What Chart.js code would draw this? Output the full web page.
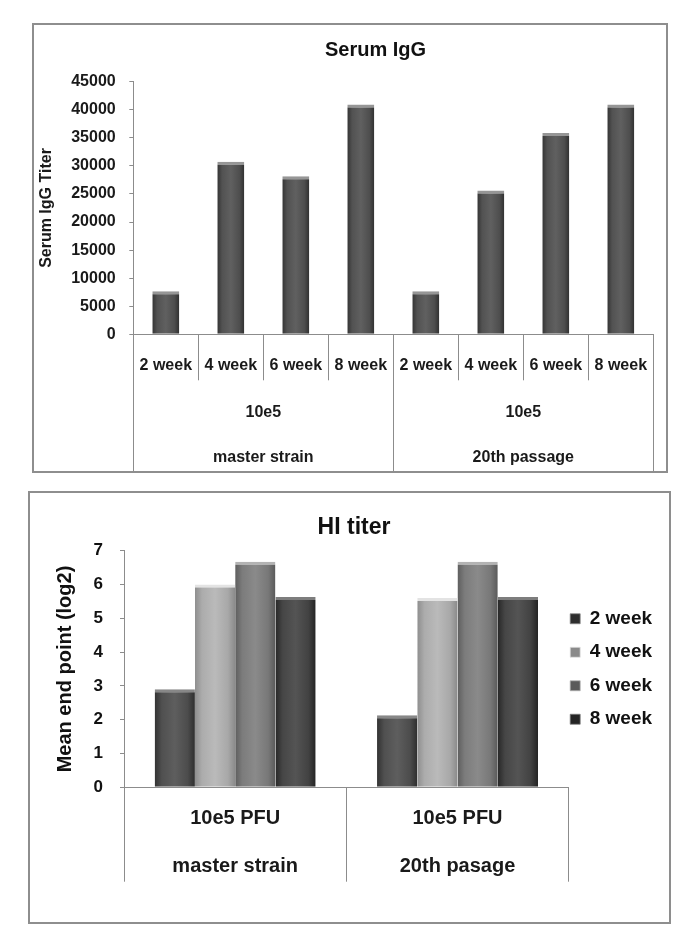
<!DOCTYPE html>
<html>
<head>
<meta charset="utf-8">
<script src="https://cdn.jsdelivr.net/npm/chart.js@4"></script>
<style>
  html, body { margin: 0; padding: 0; background: #fff; overflow: hidden; }
  .box { position: absolute; box-sizing: border-box; border: 2px solid #8e8e8e; background: #fff; }
  #igg-box { left: 32px; top: 23px; width: 636px; height: 450px; }
  #hi-box { left: 28px; top: 491px; width: 643px; height: 433px; }
  canvas { display: block; }
</style>
</head>
<body>
<div class="box" id="igg-box"><canvas id="igg" width="632" height="446"></canvas></div>
<div class="box" id="hi-box"><canvas id="hi" width="639" height="429"></canvas></div>
<script>
const weeks = ['2 week', '4 week', '6 week', '8 week'];

// Serum IgG (top chart)
const iggWeekLabels = [...weeks, ...weeks];
const iggDoseLabels = ['10e5', '10e5'];
const iggStrainLabels = ['master strain', '20th passage'];
const iggTiter = [7680, 30720, 28160, 40960, 7680, 25600, 35840, 40960];
const iggMax = 45000;
const iggStep = 5000;

// HI titer (bottom chart)
const hiDoseLabels = ['10e5 PFU', '10e5 PFU'];
const hiStrainLabels = ['master strain', '20th pasage'];
const hiWeek2 = [2.9, 2.13];
const hiWeek4 = [6.0, 5.6];
const hiWeek6 = [6.67, 6.67];
const hiWeek8 = [5.63, 5.63];
const hiSeries = [hiWeek2, hiWeek4, hiWeek6, hiWeek8];
const hiGreys = [80, 172, 124, 70];

Chart.defaults.font.family = "'Liberation Sans', Arial, sans-serif";
Chart.defaults.font.weight = 'bold';
Chart.defaults.color = '#1a1a1a';
Chart.defaults.animation = false;

const axisGrey = '#8c8c8c';
const grey = v => { v = Math.max(0, Math.min(255, Math.round(v))); return `rgb(${v},${v},${v})`; };

const IGG_BAR = 0.415;
const HI_CAT = 0.724;

// horizontal shading, darker at both edges like the 3D bars of the original
function shade(level, span) {
  return ctx => {
    const chart = ctx.chart;
    if (ctx.type !== 'data' || !chart.chartArea || !chart.scales.x) return grey(level);
    const [left, width] = span(chart, ctx);
    if (!isFinite(left) || !(width > 0)) return grey(level);
    const g = chart.ctx.createLinearGradient(left, 0, left + width, 0);
    g.addColorStop(0, grey(level - 30));
    g.addColorStop(0.18, grey(level));
    g.addColorStop(0.5, grey(level + 14));
    g.addColorStop(0.82, grey(level - 4));
    g.addColorStop(1, grey(level - 34));
    return g;
  };
}

const iggSpan = (chart, ctx) => {
  const xs = chart.scales.x;
  const w = xs.width / iggWeekLabels.length * IGG_BAR;
  return [xs.getPixelForValue(ctx.dataIndex) - w / 2, w];
};

const hiSpan = (chart, ctx) => {
  const xs = chart.scales.x;
  const group = xs.width / hiDoseLabels.length * HI_CAT;
  const w = group / hiSeries.length;
  return [xs.getPixelForValue(ctx.dataIndex) - group / 2 + ctx.datasetIndex * w, w];
};

const topBevel = { top: 3, left: 0, right: 0, bottom: 0 };

// a row of category labels under the plot; pad puts the text in the middle of the row
function labelRow(labels, weight, pad, size) {
  return {
    type: 'category', position: 'bottom', weight,
    labels,
    offset: true,
    grid: { display: false, drawTicks: false },
    border: { display: false },
    ticks: { padding: pad, font: { size }, color: '#1a1a1a', maxRotation: 0, autoSkip: false },
    // the row padding is only vertical here, don't let it squeeze the plot sideways
    afterFit: s => { s.paddingLeft = 0; s.paddingRight = 0; }
  };
}

// separator lines between categories hanging down from the base line (no text, no height)
function lineRow(labels, weight, len, withBase) {
  return {
    type: 'category', position: 'bottom', weight,
    labels,
    offset: true,
    grid: { offset: true, drawOnChartArea: false, tickLength: len, color: axisGrey },
    border: { display: withBase, color: axisGrey },
    ticks: { mirror: true, padding: -len / 2, callback: () => '', autoSkip: false, maxRotation: 0 }
  };
}

new Chart(document.getElementById('igg'), {
  type: 'bar',
  data: {
    labels: iggWeekLabels,
    datasets: [{
      label: 'Serum IgG Titer',
      data: iggTiter,
      backgroundColor: shade(82, iggSpan),
      borderColor: grey(150),
      borderWidth: topBevel,
      borderSkipped: 'bottom',
      barPercentage: IGG_BAR,
      categoryPercentage: 1
    }]
  },
  options: {
    responsive: false,
    layout: { padding: { left: 0, right: -51, top: 0, bottom: -16.7 } },
    plugins: {
      legend: { display: false },
      tooltip: { enabled: false },
      title: { display: true, text: 'Serum IgG', color: '#111', font: { size: 20 }, padding: { top: 13, bottom: 19.7 } }
    },
    scales: {
      y: {
        min: 0, max: iggMax,
        ticks: { stepSize: iggStep, padding: 13.6, font: { size: 16 }, callback: v => String(v) },
        grid: { drawOnChartArea: false, tickLength: 4, color: axisGrey },
        border: { color: axisGrey },
        title: { display: true, text: 'Serum IgG Titer', font: { size: 16 }, padding: { top: 2.8, bottom: 0 } },
        afterFit: s => { s.width = 99.3; }
      },
      // empty right-hand strip, keeps the title centred as in the original
      yPad: {
        type: 'linear', position: 'right',
        grid: { display: false, drawTicks: false },
        border: { display: false },
        ticks: { display: false },
        afterFit: s => { s.width = 63.7; }
      },
      weekLines: lineRow(iggWeekLabels, 0, 46, true),
      groupLines: lineRow(iggDoseLabels, 1, 137.3, false),
      x: labelRow(iggWeekLabels, 2, 22.1, 16),
      x2: labelRow(iggDoseLabels, 3, 5.7, 16),
      x3: labelRow(iggStrainLabels, 4, 20.1, 16)
    }
  }
});

// pull the legend a bit closer to the plot, as in the original
const legendNudge = {
  id: 'legendNudge',
  afterLayout(chart) {
    const l = chart.legend;
    if (l) { l.left -= 13; l.right -= 13; }
  }
};

new Chart(document.getElementById('hi'), {
  type: 'bar',
  data: {
    labels: hiDoseLabels,
    datasets: hiSeries.map((vals, i) => ({
      label: weeks[i],
      data: vals,
      backgroundColor: shade(hiGreys[i], hiSpan),
      borderColor: grey(hiGreys[i] + 55),
      borderWidth: topBevel,
      borderSkipped: 'bottom'
    }))
  },
  options: {
    responsive: false,
    datasets: { bar: { categoryPercentage: HI_CAT, barPercentage: 1 } },
    layout: { padding: { left: 9, right: 0, top: 0, bottom: 39.5 } },
    plugins: {
      tooltip: { enabled: false },
      title: { display: true, text: 'HI titer', color: '#111', font: { size: 23 }, padding: { top: 21.2, bottom: 8.9 } },
      legend: {
        position: 'right',
        fullSize: false,
        maxWidth: 100.3,
        labels: { boxWidth: 10, boxHeight: 10, padding: 14.5, color: '#111', font: { size: 19 } }
      }
    },
    scales: {
      y: {
        min: 0, max: 7,
        ticks: { stepSize: 1, padding: 17, color: '#111', font: { size: 17 } },
        grid: { drawOnChartArea: false, tickLength: 4, color: axisGrey },
        border: { color: axisGrey },
        title: { display: true, text: 'Mean end point (log2)', color: '#111', font: { size: 20 }, padding: { top: 14, bottom: 0 } },
        afterFit: s => { s.width = 85; }
      },
      groupLines: lineRow(hiDoseLabels, 0, 94.4, true),
      x: labelRow(hiDoseLabels, 1, 19.4, 20),
      x2: labelRow(hiStrainLabels, 2, 4.2, 20)
    }
  },
  plugins: [legendNudge]
});
</script>
</body>
</html>
